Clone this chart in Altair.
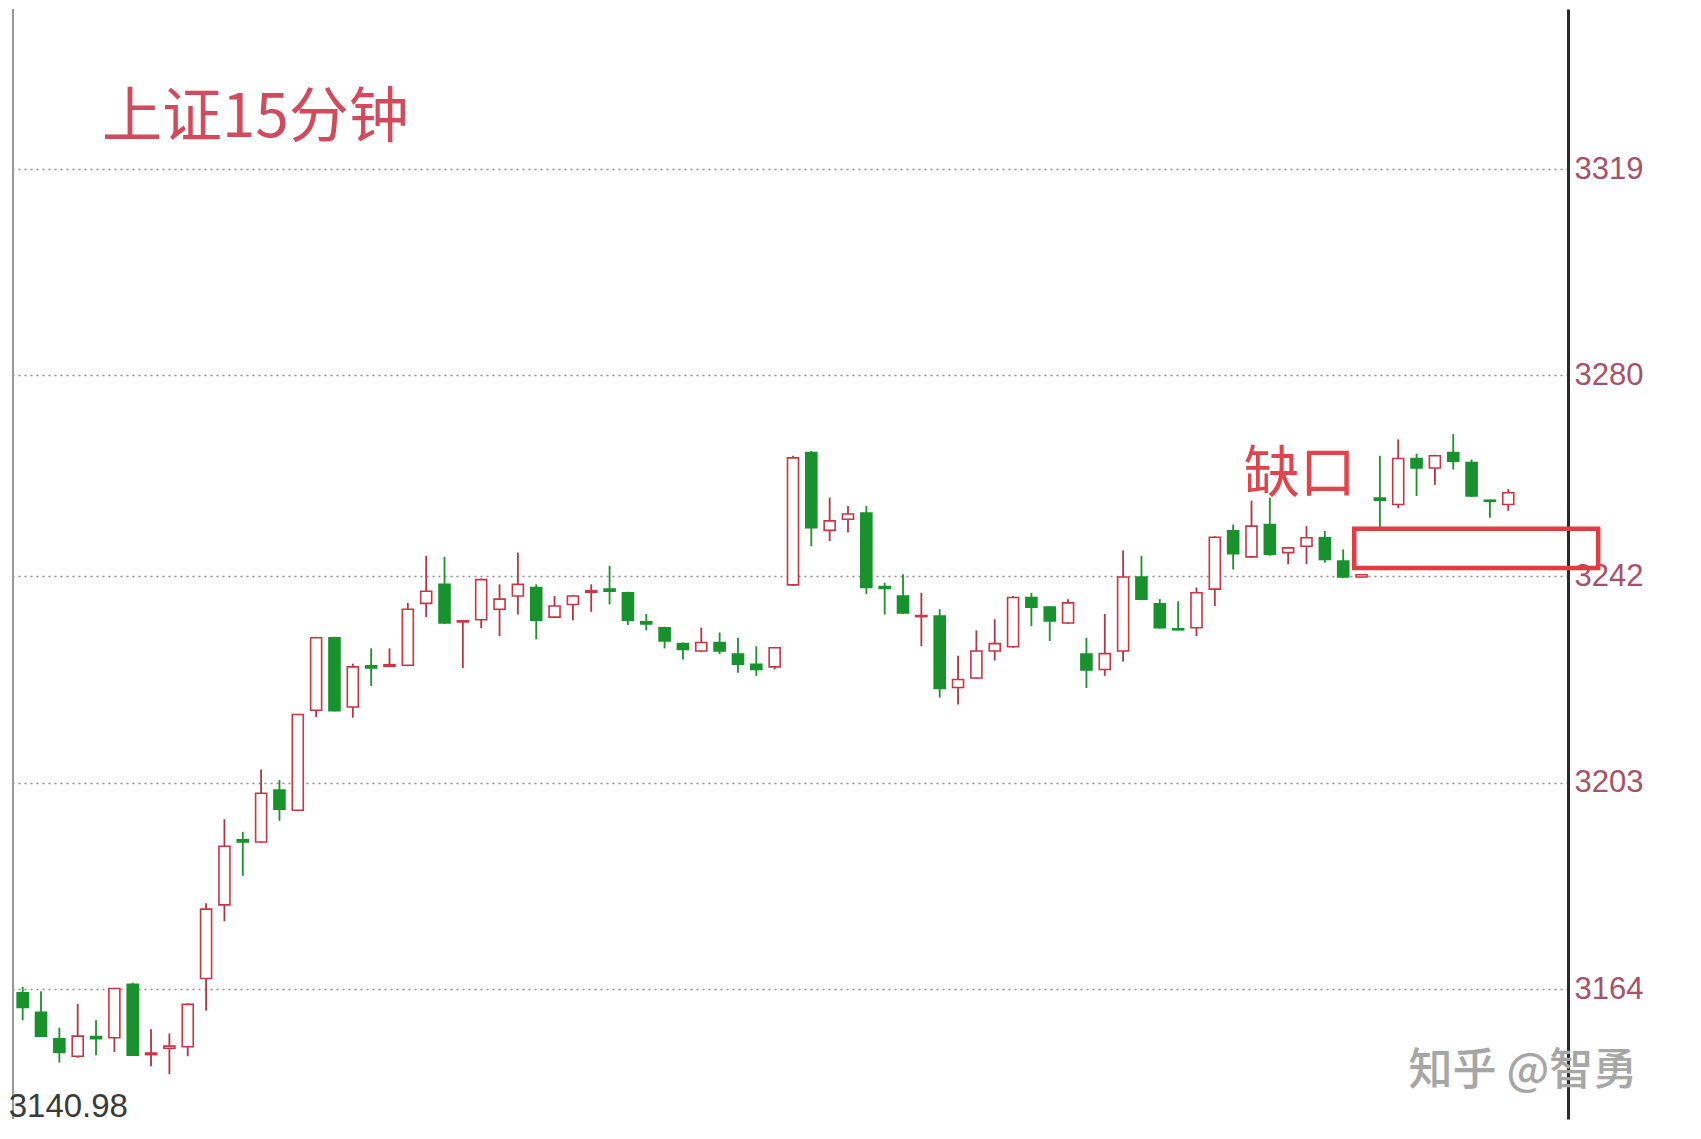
import altair as alt
import pandas as pd

# ---- data (上证 15-minute candles) ----
opens = [3163.3, 3159.6, 3154.6, 3151.3, 3155.0, 3154.8, 3164.9, 3151.6, 3152.8, 3153.1,
         3166.0, 3179.9, 3192.2, 3191.8, 3201.6, 3197.8, 3216.7, 3230.4, 3217.3, 3225.1,
         3225.0, 3225.2, 3236.9, 3240.5, 3233.4, 3233.8, 3235.8, 3238.3, 3239.9, 3234.3,
         3236.7, 3239.0, 3239.6, 3238.9, 3233.4, 3232.3, 3229.3, 3227.9, 3229.5, 3227.3,
         3225.4, 3224.9, 3240.4, 3265.4, 3250.7, 3252.8, 3254.0, 3240.1, 3238.3, 3234.4,
         3234.5, 3221.0, 3222.8, 3227.9, 3228.7, 3238.0, 3236.2, 3233.2, 3227.3, 3224.4,
         3227.9, 3241.9, 3236.8, 3232.1, 3232.3, 3239.6, 3250.6, 3245.7, 3251.8, 3246.5,
         3247.7, 3249.3, 3244.9, 3241.9, 3256.8, 3255.6, 3264.3, 3262.5, 3265.4, 3263.5,
         3256.4, 3255.6]
closes = [3160.5, 3155.1, 3152.0, 3155.1, 3154.6, 3164.1, 3151.5, 3151.9, 3153.2, 3161.1,
          3179.1, 3191.0, 3191.8, 3201.0, 3198.0, 3215.9, 3230.4, 3216.6, 3224.9, 3224.7,
          3225.3, 3235.8, 3239.2, 3233.2, 3233.6, 3241.4, 3237.7, 3240.5, 3233.7, 3236.4,
          3238.3, 3239.3, 3239.2, 3233.7, 3233.0, 3229.8, 3228.2, 3229.5, 3227.9, 3225.4,
          3224.4, 3228.5, 3264.4, 3251.2, 3252.5, 3253.8, 3239.9, 3239.7, 3235.1, 3234.6,
          3220.8, 3222.5, 3227.9, 3229.3, 3238.0, 3236.2, 3233.6, 3237.0, 3224.3, 3227.4,
          3241.9, 3237.7, 3232.3, 3231.9, 3238.9, 3249.4, 3246.3, 3251.5, 3246.2, 3247.4,
          3249.3, 3245.2, 3241.9, 3242.3, 3256.4, 3264.3, 3262.5, 3264.8, 3263.8, 3257.2,
          3256.2, 3257.8]
highs = [3164.4, 3163.6, 3156.7, 3161.2, 3158.1, 3164.2, 3165.2, 3156.4, 3155.6, 3161.3,
         3180.2, 3196.1, 3193.7, 3205.5, 3203.5, 3216.0, 3230.6, 3230.6, 3225.5, 3228.4,
         3228.4, 3237.0, 3245.9, 3245.7, 3233.7, 3241.6, 3240.5, 3246.5, 3240.5, 3238.3,
         3238.5, 3240.5, 3244.0, 3239.1, 3234.9, 3232.5, 3229.5, 3232.3, 3231.4, 3230.4,
         3228.8, 3228.7, 3264.8, 3265.7, 3256.9, 3255.3, 3255.3, 3240.8, 3242.4, 3238.9,
         3235.8, 3227.0, 3231.8, 3233.9, 3238.3, 3238.9, 3236.4, 3237.7, 3230.4, 3234.9,
         3246.9, 3245.9, 3237.7, 3237.3, 3239.9, 3249.6, 3251.8, 3256.3, 3256.9, 3247.6,
         3251.5, 3250.6, 3247.1, 3242.4, 3264.8, 3267.9, 3265.2, 3265.0, 3268.9, 3264.1,
         3256.5, 3258.5]
lows = [3158.1, 3155.0, 3150.1, 3151.0, 3151.5, 3152.1, 3151.4, 3149.4, 3147.9, 3151.3,
        3159.9, 3176.8, 3185.4, 3191.6, 3195.8, 3197.6, 3215.4, 3216.5, 3215.3, 3221.3,
        3224.9, 3225.0, 3234.3, 3233.0, 3224.7, 3232.2, 3230.7, 3234.8, 3230.1, 3234.1,
        3233.7, 3235.3, 3236.7, 3232.8, 3231.8, 3228.4, 3226.3, 3227.7, 3227.3, 3223.8,
        3223.2, 3224.4, 3240.2, 3247.7, 3248.7, 3250.3, 3238.7, 3234.8, 3234.9, 3228.8,
        3219.1, 3217.8, 3222.6, 3226.1, 3228.5, 3232.6, 3229.8, 3233.0, 3220.9, 3223.2,
        3225.9, 3237.5, 3232.1, 3231.8, 3230.7, 3236.4, 3243.3, 3245.5, 3245.9, 3244.3,
        3244.3, 3244.6, 3241.7, 3241.8, 3251.2, 3254.9, 3257.2, 3259.3, 3262.2, 3257.0,
        3253.1, 3254.4]

axis_ticks = [3164, 3203, 3242, 3280, 3319]
low_label = ["3140.98"]
low_value = [3140.98]
title_text = ["上证15分钟"]
gap_text = ["缺口"]
watermark = ["知乎 @智勇"]
# gap box (index range, price range)
gap_box_x = [72.6, 85.9]
gap_box_y = [3243.6, 3251.0]

W, H = 1555, 1110
XDOM = [-0.255, 83.985]
YDOM = [3139.43, 3349.26]

RED = "#cc3442"
RED_WICK = "#b03646"
GREEN = "#18922c"

df = pd.DataFrame({
    "i": list(range(len(opens))),
    "open": opens, "close": closes, "high": highs, "low": lows,
})
df["dir"] = ["up" if c >= o else "down" for o, c in zip(opens, closes)]

xs = alt.Scale(domain=XDOM, nice=False, zero=False)
ys = alt.Scale(domain=YDOM, nice=False, zero=False)

base = alt.Chart(df)

wicks = base.mark_rule(strokeWidth=1.8).encode(
    x=alt.X("i:Q", scale=xs, axis=None),
    y=alt.Y("low:Q", scale=ys, axis=alt.Axis(
        orient="right", values=axis_ticks, format="d", grid=True, gridDash=[2, 4],
        gridColor="#8a8a8a", gridWidth=1.6, domainColor="#2a2a2a", domainWidth=3,
        ticks=False, labelFontSize=31, labelFont="Liberation Sans",
        labelColor="#a8506a", labelPadding=6, title=None)),
    y2="high:Q",
    color=alt.Color("dir:N", scale=alt.Scale(domain=["up", "down"], range=[RED_WICK, GREEN]), legend=None),
)

bodies = base.mark_bar(width=11, strokeWidth=1.6).encode(
    x=alt.X("i:Q", scale=xs),
    y=alt.Y("open:Q", scale=ys),
    y2="close:Q",
    fill=alt.Fill("dir:N", scale=alt.Scale(domain=["up", "down"], range=["#ffffff", GREEN]), legend=None),
    stroke=alt.Stroke("dir:N", scale=alt.Scale(domain=["up", "down"], range=[RED, GREEN]), legend=None),
)

box_df = pd.DataFrame({"x": [gap_box_x[0]], "x2": [gap_box_x[1]], "y": [gap_box_y[0]], "y2": [gap_box_y[1]]})
box = alt.Chart(box_df).mark_rect(fillOpacity=0, stroke="#e23c40", strokeWidth=4.5, clip=False).encode(
    x=alt.X("x:Q", scale=xs), x2="x2:Q",
    y=alt.Y("y:Q", scale=ys), y2="y2:Q",
)

title_df = pd.DataFrame({"t": title_text, "x": [12.69], "y": [3328.5]})
title = alt.Chart(title_df).mark_text(
    font="Noto Sans CJK SC", fontSize=60, color="#d24a5c", align="center", baseline="middle"
).encode(x=alt.X("x:Q", scale=xs), y=alt.Y("y:Q", scale=ys), text="t:N")

gap_df = pd.DataFrame({"t": gap_text, "x": [69.63], "y": [3261.2]})
gap_label = alt.Chart(gap_df).mark_text(
    font="Noto Sans CJK SC", fontSize=56, color="#e2444c", align="center", baseline="middle"
).encode(x=alt.X("x:Q", scale=xs), y=alt.Y("y:Q", scale=ys), text="t:N")

low_df = pd.DataFrame({"t": low_label, "x": [0], "y": low_value})
low_text = alt.Chart(low_df).mark_text(
    font="Liberation Sans", fontSize=33, color="#3a3a3a", align="left", baseline="middle",
    dx=-14, dy=-4
).encode(x=alt.X("x:Q", scale=xs), y=alt.Y("y:Q", scale=ys), text="t:N")

wm_df = pd.DataFrame({"t": watermark, "x": [81.8], "y": [3148.3]})
wm = alt.Chart(wm_df).mark_text(
    font="Noto Sans CJK SC", fontSize=44, fontWeight=500, color="#a6a6a6", align="center", baseline="middle"
).encode(x=alt.X("x:Q", scale=xs), y=alt.Y("y:Q", scale=ys), text="t:N")

left_line = alt.Chart(box_df).mark_rule(color="#9a9a9a", strokeWidth=2).encode(
    x=alt.value(0), y=alt.value(0), y2=alt.value(H))

chart = alt.layer(left_line, wicks, bodies, box, title, gap_label, low_text, wm).properties(
    width=W, height=H, padding={"left": 0, "top": 0, "right": 5, "bottom": 0},
    background="#ffffff"
).configure_view(strokeWidth=0, stroke=None)

chart.save("out.html", embed_options={"renderer": "svg", "actions": False})
